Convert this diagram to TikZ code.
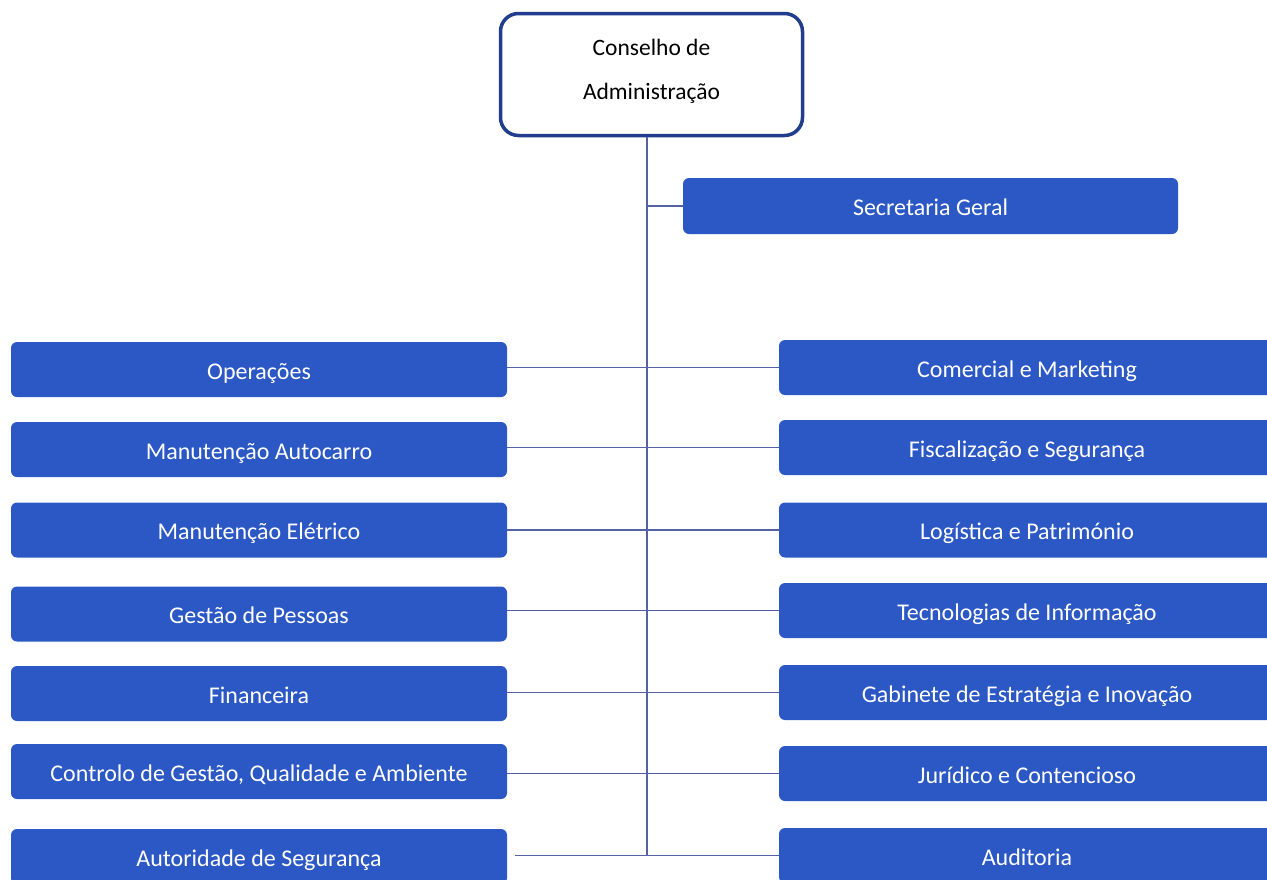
\documentclass[tikz,border=0pt]{standalone}
\usepackage{fontspec}
\setmainfont{Carlito}
\definecolor{ublue}{RGB}{43,88,196}
\definecolor{topblue}{RGB}{32,62,140}
\definecolor{lineblue}{RGB}{82,98,165}
\begin{document}
\begin{tikzpicture}[x=1pt,y=-1pt,
  unit/.style={draw=none,fill=ublue,rounded corners=6pt,minimum width=496pt,minimum height=55pt,inner sep=0pt,text=white,text height=24pt,text depth=4.5pt,font=\fontsize{24}{28}\selectfont},
  link/.style={draw=lineblue,line width=1.5pt}]
\clip (0,0) rectangle (1267,879);
\fill[white] (0,0) rectangle (1267,879);
% top box
\node[draw=topblue,line width=3.5pt,rounded corners=18pt,minimum width=302pt,minimum height=122pt,align=center,inner sep=0pt,text depth=10.5pt,font=\fontsize{23.5}{43.7}\selectfont] (ca) at (651.5,74.5) {Conselho de\\Administração};
\coordinate (vb) at (647,855.5);
% secretaria
\node[unit,minimum width=495pt,minimum height=56pt] (sg) at (930.5,206) {Secretaria Geral};
% left column
\node[unit] (op) at (259,369.5) {Operações};
\node[unit] (ma) at (259,449.5) {Manutenção Autocarro};
\node[unit] (me) at (259,530) {Manutenção Elétrico};
\node[unit] (gp) at (259,614) {Gestão de Pessoas};
\node[unit] (fi) at (259,693.5) {Financeira};
\node[unit] (cg) at (259,771.5) {Controlo de Gestão, Qualidade e Ambiente};
\node[unit] (as) at (259,856.5) {Autoridade de Segurança};
% right column
\node[unit] (cm) at (1027,367.5) {Comercial e Marketing};
\node[unit] (fs) at (1027,447.5) {Fiscalização e Segurança};
\node[unit] (lp) at (1027,530) {Logística e Património};
\node[unit] (ti) at (1027,610.5) {Tecnologias de Informação};
\node[unit] (ge) at (1027,692.5) {Gabinete de Estratégia e Inovação};
\node[unit] (jc) at (1027,773.5) {Jurídico e Contencioso};
\node[unit] (au) at (1027,855.5) {Auditoria};
% connectors
\draw[link] (ca.south -| vb) -- (vb);
\draw[link] (sg.west -| vb) -- (sg.west);
\draw[link] (cm.west -| op.east) -- (cm.west);
\draw[link] (fs.west -| ma.east) -- (fs.west);
\draw[link] (lp.west -| me.east) -- (lp.west);
\draw[link] (ti.west -| gp.east) -- (ti.west);
\draw[link] (ge.west -| fi.east) -- (ge.west);
\draw[link] (jc.west -| cg.east) -- (jc.west);
\draw[link] ([xshift=8pt]au.west -| as.east) -- (au.west);
\end{tikzpicture}
\end{document}
